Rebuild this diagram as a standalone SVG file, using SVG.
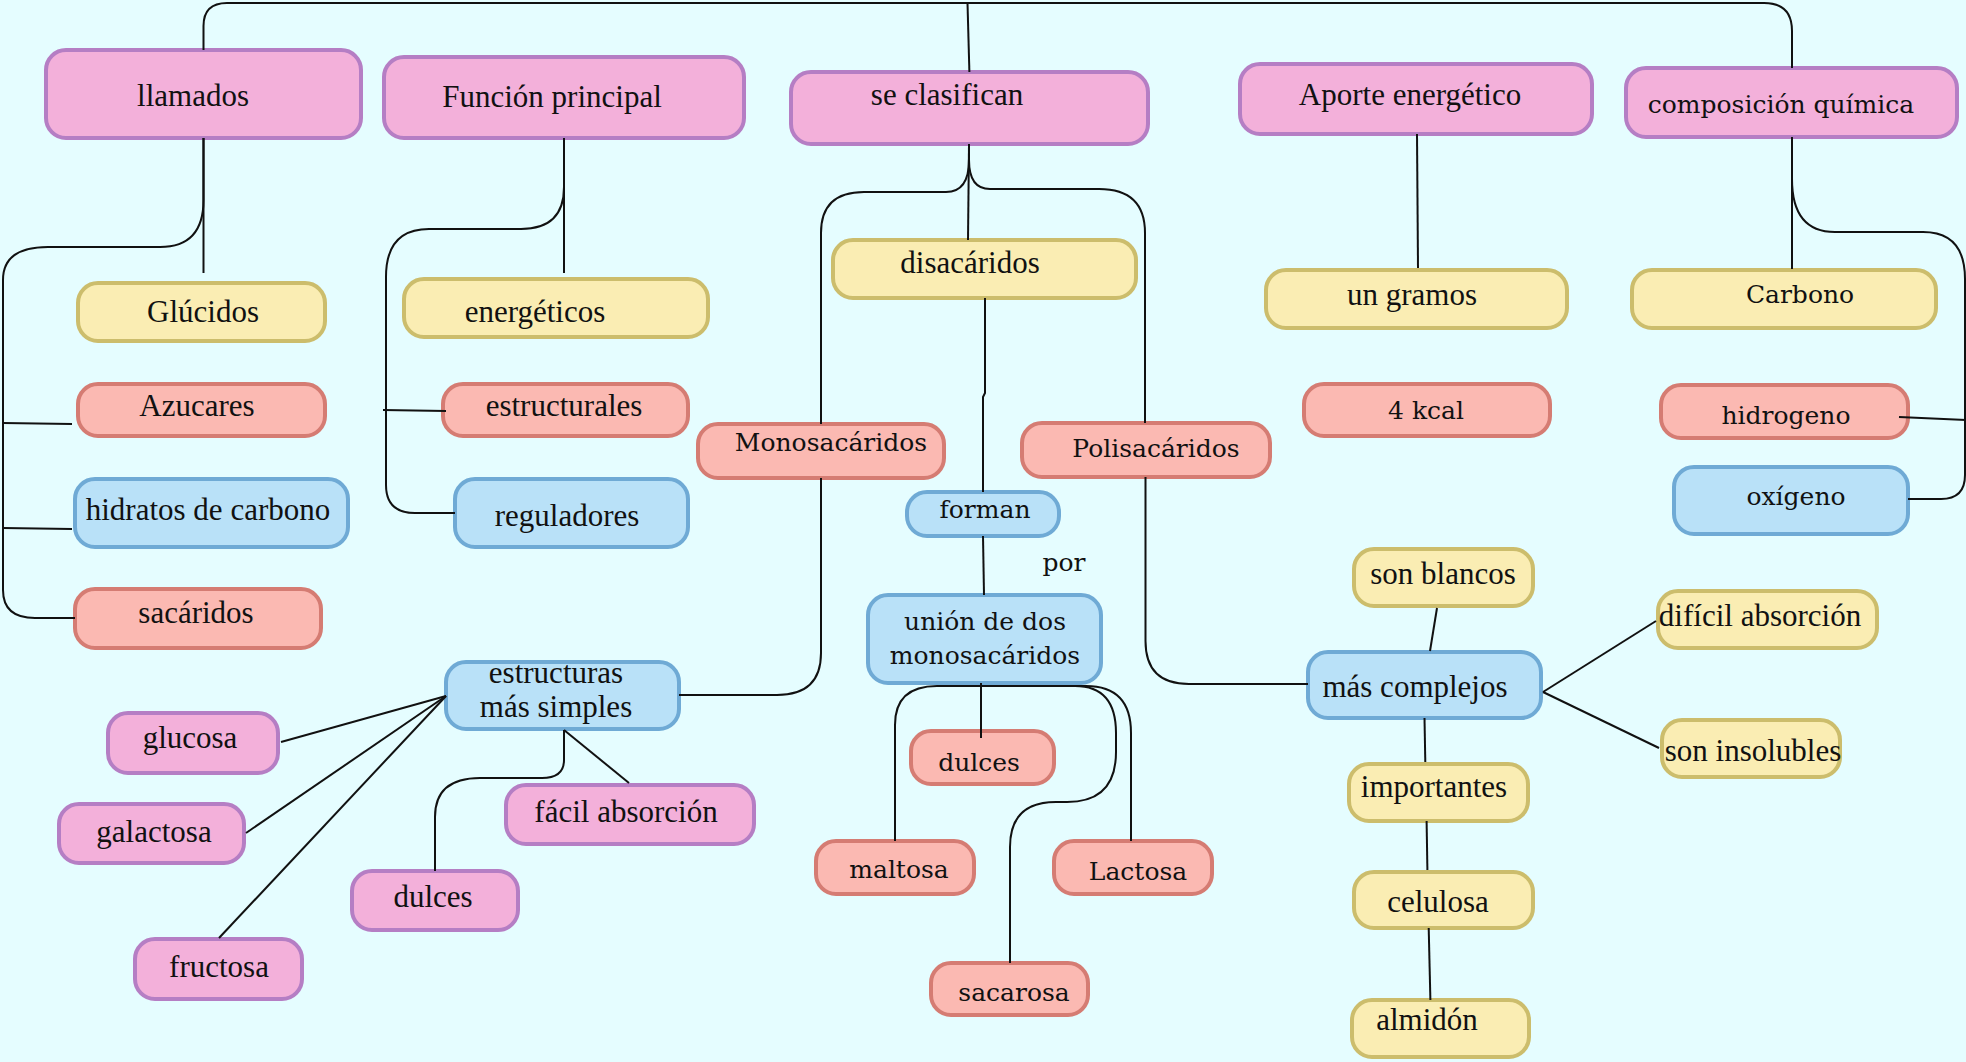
<svg xmlns="http://www.w3.org/2000/svg" width="1966" height="1062" viewBox="0 0 1966 1062">
<style>
.bg{fill:#e5fdff}
.n rect{stroke-width:4}
.pk rect{fill:#f3b0da;stroke:#b57ec4}
.yl rect{fill:#faedb3;stroke:#ccbd6c}
.sl rect{fill:#fbb9b2;stroke:#d57c73}
.bl rect{fill:#b9e1f8;stroke:#6faad5}
text{fill:#111;text-anchor:middle}
.c{font-family:"Liberation Serif","Times New Roman",serif;font-size:31px}
.w{font-family:"DejaVu Serif","Liberation Serif",serif;font-size:25px}
#connectors path{fill:none;stroke:#111;stroke-width:2}
</style>
<rect class="bg" x="0" y="0" width="1966" height="1062"/>
<g id="nodes">
<g id="llamados" class="n pk"><rect x="46" y="50" width="315" height="88" rx="20"/><text class="c" x="193" y="106">llamados</text></g>
<g id="funcion" class="n pk"><rect x="384" y="57" width="360" height="81" rx="20"/><text class="c" x="552" y="107">Función principal</text></g>
<g id="seclasifican" class="n pk"><rect x="791" y="72" width="357" height="72" rx="20"/><text class="c" x="947" y="105">se clasifican</text></g>
<g id="aporte" class="n pk"><rect x="1240" y="64" width="352" height="70" rx="20"/><text class="c" x="1410" y="105">Aporte energético</text></g>
<g id="composicion" class="n pk"><rect x="1626" y="68" width="331" height="69" rx="20"/><text class="w" x="1781" y="113">composición química</text></g>
<g id="glucosa" class="n pk"><rect x="108" y="713" width="170" height="60" rx="20"/><text class="c" x="190" y="748">glucosa</text></g>
<g id="galactosa" class="n pk"><rect x="59" y="804" width="185" height="59" rx="20"/><text class="c" x="154" y="842">galactosa</text></g>
<g id="fructosa" class="n pk"><rect x="135" y="939" width="167" height="60" rx="20"/><text class="c" x="219" y="977">fructosa</text></g>
<g id="dulces1" class="n pk"><rect x="352" y="871" width="166" height="59" rx="20"/><text class="c" x="433" y="907">dulces</text></g>
<g id="facil" class="n pk"><rect x="506" y="785" width="248" height="59" rx="20"/><text class="c" x="626" y="822">fácil absorción</text></g>

<g id="glucidos" class="n yl"><rect x="78" y="283" width="247" height="58" rx="20"/><text class="c" x="203" y="322">Glúcidos</text></g>
<g id="energeticos" class="n yl"><rect x="404" y="279" width="304" height="58" rx="20"/><text class="c" x="535" y="322">energéticos</text></g>
<g id="disacaridos" class="n yl"><rect x="833" y="240" width="303" height="58" rx="20"/><text class="c" x="970" y="273">disacáridos</text></g>
<g id="ungramos" class="n yl"><rect x="1266" y="270" width="301" height="58" rx="20"/><text class="c" x="1412" y="305">un gramos</text></g>
<g id="carbono" class="n yl"><rect x="1632" y="270" width="304" height="58" rx="20"/><text class="w" x="1800" y="303">Carbono</text></g>
<g id="sonblancos" class="n yl"><rect x="1354" y="549" width="179" height="57" rx="20"/><text class="c" x="1443" y="584">son blancos</text></g>
<g id="dificil" class="n yl"><rect x="1658" y="591" width="219" height="57" rx="20"/><text class="c" x="1760" y="626">difícil absorción</text></g>
<g id="insolubles" class="n yl"><rect x="1662" y="720" width="178" height="57" rx="20"/><text class="c" x="1753" y="761">son insolubles</text></g>
<g id="importantes" class="n yl"><rect x="1349" y="764" width="179" height="57" rx="20"/><text class="c" x="1434" y="797">importantes</text></g>
<g id="celulosa" class="n yl"><rect x="1354" y="872" width="179" height="56" rx="20"/><text class="c" x="1438" y="912">celulosa</text></g>
<g id="almidon" class="n yl"><rect x="1352" y="1000" width="177" height="57" rx="20"/><text class="c" x="1427" y="1030">almidón</text></g>

<g id="azucares" class="n sl"><rect x="78" y="384" width="247" height="52" rx="20"/><text class="c" x="197" y="416">Azucares</text></g>
<g id="estructurales" class="n sl"><rect x="443" y="384" width="245" height="52" rx="20"/><text class="c" x="564" y="416">estructurales</text></g>
<g id="sacaridos" class="n sl"><rect x="75" y="589" width="246" height="59" rx="20"/><text class="c" x="196" y="623">sacáridos</text></g>
<g id="monosacaridos" class="n sl"><rect x="698" y="424" width="246" height="54" rx="20"/><text class="w" x="831" y="451">Monosacáridos</text></g>
<g id="polisacaridos" class="n sl"><rect x="1022" y="423" width="248" height="54" rx="20"/><text class="w" x="1156" y="457">Polisacáridos</text></g>
<g id="kcal" class="n sl"><rect x="1304" y="384" width="246" height="52" rx="20"/><text class="w" x="1426" y="419">4 kcal</text></g>
<g id="hidrogeno" class="n sl"><rect x="1661" y="385" width="247" height="53" rx="20"/><text class="w" x="1786" y="424">hidrogeno</text></g>
<g id="dulces2" class="n sl"><rect x="911" y="731" width="143" height="53" rx="20"/><text class="w" x="979" y="771">dulces</text></g>
<g id="maltosa" class="n sl"><rect x="816" y="841" width="158" height="53" rx="20"/><text class="w" x="899" y="878">maltosa</text></g>
<g id="lactosa" class="n sl"><rect x="1054" y="841" width="158" height="53" rx="20"/><text class="w" x="1138" y="880">Lactosa</text></g>
<g id="sacarosa" class="n sl"><rect x="931" y="963" width="157" height="52" rx="20"/><text class="w" x="1014" y="1001">sacarosa</text></g>

<g id="hidratos" class="n bl"><rect x="75" y="479" width="273" height="68" rx="20"/><text class="c" x="208" y="520">hidratos de carbono</text></g>
<g id="reguladores" class="n bl"><rect x="455" y="479" width="233" height="68" rx="20"/><text class="c" x="567" y="526">reguladores</text></g>
<g id="oxigeno" class="n bl"><rect x="1674" y="467" width="234" height="67" rx="20"/><text class="w" x="1796" y="505">oxígeno</text></g>
<g id="estructuras" class="n bl"><rect x="446" y="662" width="233" height="67" rx="20"/><text class="c" x="556" y="683">estructuras</text><text class="c" x="556" y="717">más simples</text></g>
<g id="forman" class="n bl"><rect x="907" y="492" width="152" height="44" rx="20"/><text class="w" x="985" y="518">forman</text></g>
<g id="union" class="n bl"><rect x="868" y="595" width="233" height="88" rx="20"/><text class="w" x="985" y="630">unión de dos</text><text class="w" x="985" y="664">monosacáridos</text></g>
<g id="complejos" class="n bl"><rect x="1308" y="652" width="233" height="66" rx="20"/><text class="c" x="1415" y="697">más complejos</text></g>
<g id="por"><text class="w" x="1064" y="571">por</text></g>
</g>
<g id="connectors">
<path d="M203.5,50 V26 Q203.5,3 227,3 H1764 Q1792,3 1792,31 V68"/>
<path d="M967.5,3 L969.4,72"/>
<path d="M203.5,138 V273"/>
<path d="M203.5,138 V200 Q203.5,247 160,247 H48 Q3,247 3,280 V590 Q3,618 35,618 H75"/>
<path d="M3,423 L72,424"/>
<path d="M3,528 L72,529"/>
<path d="M564,138 V273"/>
<path d="M564,138 V187 Q564,229 521,229 H429 Q386,229 386,277 V485 Q386,513 415,513 H455"/>
<path d="M383,410 L446,411"/>
<path d="M969,144 V160 Q969,192 946,192 H864 Q821,192 821,233 V424"/>
<path d="M969,144 L968,240"/>
<path d="M969,160 Q969,189 990,189 H1099 Q1145,189 1145,233 V423"/>
<path d="M985,298 V393 L983,397 V492"/>
<path d="M1417,134 L1418,268"/>
<path d="M1792,137 V269"/>
<path d="M1792,137 V179 Q1792,232 1835,232 H1923 Q1965,232 1965,279 V475 Q1965,499 1941,499 H1908"/>
<path d="M1899,417 L1966,420"/>
<path d="M821,478 V653 Q821,695 777,695 H679"/>
<path d="M1145.5,477 V641 Q1145.5,684 1189,684 H1308"/>
<path d="M983,536 L984,595"/>
<path d="M981,683 V738"/>
<path d="M981,686 H937 Q895,686 895,725 V841"/>
<path d="M981,686 H1075 Q1116,686 1116,733 V752 Q1116,802 1067,802 H1056 Q1010,802 1010,847 V963"/>
<path d="M981,686 H1086 Q1131,686 1131,733 V841"/>
<path d="M446,696 L281,742"/>
<path d="M446,696 L246,833"/>
<path d="M446,696 L219,938"/>
<path d="M564,730 L629,783"/>
<path d="M564,730 V760 Q564,778 542,778 H480 Q435,778 435,817 V871"/>
<path d="M1437,608 L1430,651"/>
<path d="M1543,692 L1656,621"/>
<path d="M1543,692 L1659,748"/>
<path d="M1424.5,718 L1425.3,762"/>
<path d="M1426.6,821 L1427.4,870"/>
<path d="M1428.7,928 L1430.4,1000"/>
</g>
</svg>
